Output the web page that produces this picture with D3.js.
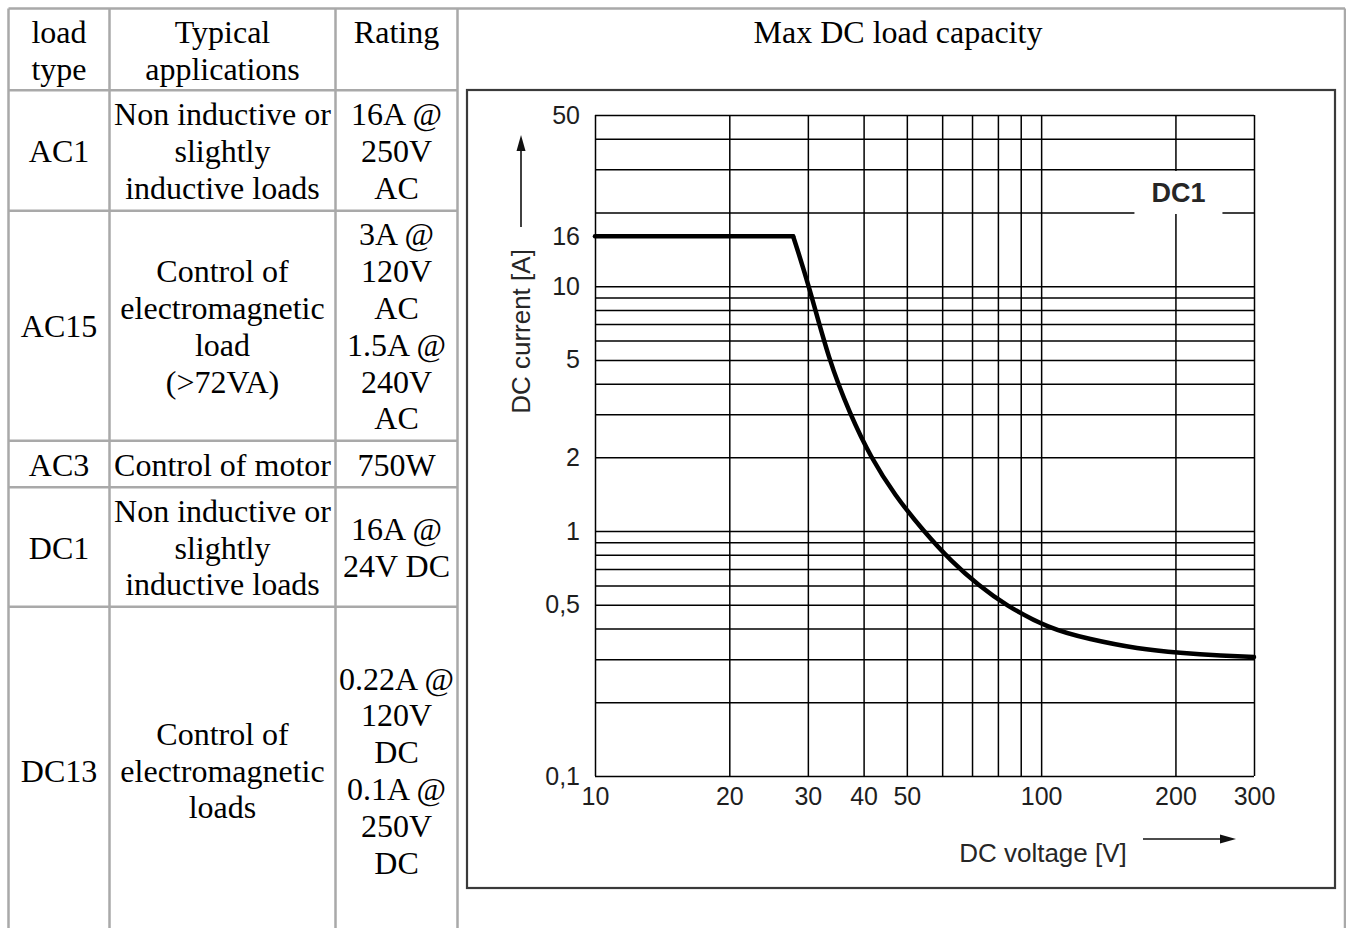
<!DOCTYPE html>
<html>
<head>
<meta charset="utf-8">
<script src="https://cdn.jsdelivr.net/npm/d3@7"></script>
<style>
  body { margin: 0; background: #fff; }
  svg { display: block; }
  .cell { font-family: "Liberation Serif", "Times New Roman", serif; font-size: 32px; fill: #000; }
  .chart text { font-family: "Liberation Sans", Arial, sans-serif; fill: #1e1e1e; }
  .chart .ticks text { font-size: 25px; }
  .chart .axis-title { font-size: 26px; fill: #262626; }
  .chart .series-label { font-size: 27px; font-weight: bold; fill: #262626; }
</style>
</head>
<body>
<svg id="page" width="1346" height="928"></svg>
<script>
// table contents
var headers = [["load", "type"], ["Typical", "applications"], ["Rating"]];
var loadTypes = ["AC1", "AC15", "AC3", "DC1", "DC13"];
var applications = [
  ["Non inductive or", "slightly", "inductive loads"],
  ["Control of", "electromagnetic", "load", "(>72VA)"],
  ["Control of motor"],
  ["Non inductive or", "slightly", "inductive loads"],
  ["Control of", "electromagnetic", "loads"]
];
var ratings = [
  ["16A @", "250V", "AC"],
  ["3A @", "120V", "AC", "1.5A @", "240V", "AC"],
  ["750W"],
  ["16A @", "24V DC"],
  ["0.22A @", "120V", "DC", "0.1A @", "250V", "DC"]
];
var chartTitle = "Max DC load capacity";

// DC1 limit curve (V, A)
var voltage = [10, 27.8, 30.2, 33.4, 37.3, 41.5, 47, 54.5, 63, 72.5, 83, 104, 128, 165, 205, 255, 300];
var current = [16, 16, 10, 5, 3, 2, 1.4, 1, 0.75, 0.6, 0.5, 0.4, 0.362, 0.33, 0.318, 0.31, 0.306];

var xGrid = [10, 20, 30, 40, 50, 60, 70, 80, 90, 100, 200, 300];
var yGrid = [0.1, 0.2, 0.3, 0.4, 0.5, 0.6, 0.7, 0.8, 0.9, 1, 2, 3, 4, 5, 6, 7, 8, 9, 10, 20, 30, 40, 50];
var xTicks = [10, 20, 30, 40, 50, 100, 200, 300];
var yTicks = [0.1, 0.5, 1, 2, 5, 10, 16, 50];
var seriesName = "DC1";

var svg = d3.select('#page');

// ---- table ----
var colEdges = [8.5, 109.5, 335.5, 457.5, 1345];
var rowEdges = [8.5, 90.3, 210.7, 440.7, 487.3, 606.7, 933.3];
var lineH = 36.8;

var borders = svg.append('g')
  .attr('stroke', '#a9a9a9')
  .attr('stroke-width', 2.5);

borders.selectAll('line.v')
  .data(colEdges)
  .enter()
  .append('line')
  .attr('class', 'v')
  .attr('x1', function(d) { return d; })
  .attr('x2', function(d) { return d; })
  .attr('y1', rowEdges[0])
  .attr('y2', 928);

borders.selectAll('line.h')
  .data(rowEdges.slice(1, -1))
  .enter()
  .append('line')
  .attr('class', 'h')
  .attr('x1', colEdges[0])
  .attr('x2', colEdges[3])
  .attr('y1', function(d) { return d; })
  .attr('y2', function(d) { return d; });

borders.append('line')
  .attr('x1', colEdges[0])
  .attr('x2', colEdges[4])
  .attr('y1', rowEdges[0])
  .attr('y2', rowEdges[0]);

var cells = [];
headers.forEach(function(lines, i) { cells.push({col: i, row: 0, lines: lines, top: true}); });
loadTypes.forEach(function(t, i) {
  cells.push({col: 0, row: i + 1, lines: [t]});
  cells.push({col: 1, row: i + 1, lines: applications[i]});
  cells.push({col: 2, row: i + 1, lines: ratings[i]});
});

svg.append('g')
  .selectAll('text')
  .data(cells)
  .enter()
  .append('text')
  .attr('class', 'cell')
  .attr('text-anchor', 'middle')
  .each(function(d) {
    var cx = (colEdges[d.col] + colEdges[d.col + 1]) / 2;
    var first = d.top
      ? rowEdges[0] + 34.5
      : (rowEdges[d.row] + rowEdges[d.row + 1]) / 2 + 11.6 - (d.lines.length - 1) / 2 * lineH;
    d3.select(this).selectAll('tspan')
      .data(d.lines)
      .enter()
      .append('tspan')
      .attr('x', cx)
      .attr('y', function(l, i) { return first + i * lineH; })
      .text(function(l) { return l; });
  });

svg.append('text')
  .attr('class', 'cell')
  .attr('text-anchor', 'middle')
  .attr('x', 898)
  .attr('y', rowEdges[0] + 34.5)
  .text(chartTitle);

// ---- chart ----
var xScale = d3.scaleLog().domain([10, 300]).range([595, 1254]);
var yScale = d3.scaleLog().domain([0.1, 50]).range([776, 115]);
var plotW = xScale(300) - xScale(10);
var plotH = yScale(0.1) - yScale(50);

var chart = svg.append('g').attr('class', 'chart');

// picture frame
chart.append('rect')
  .attr('x', 467)
  .attr('y', 90)
  .attr('width', 868)
  .attr('height', 798)
  .attr('fill', 'none')
  .attr('stroke', '#3a3a3a')
  .attr('stroke-width', 2.2);

// grid lines
var xGridAxis = d3.axisBottom(xScale).tickValues(xGrid).tickSize(-plotH).tickFormat('');
var yGridAxis = d3.axisLeft(yScale).tickValues(yGrid).tickSize(-plotW).tickFormat('');

chart.append('g')
  .attr('transform', 'translate(0,' + yScale(0.1) + ')')
  .call(xGridAxis)
  .call(function(g) { g.select('.domain').remove(); })
  .selectAll('line')
  .attr('stroke', '#000')
  .attr('stroke-width', 1.5);

chart.append('g')
  .attr('transform', 'translate(' + xScale(10) + ',0)')
  .call(yGridAxis)
  .call(function(g) { g.select('.domain').remove(); })
  .selectAll('line')
  .attr('stroke', '#000')
  .attr('stroke-width', 1.5);

// tick labels
var fmt = function(d) { return String(d).replace('.', ','); };

chart.append('g')
  .attr('class', 'ticks')
  .attr('transform', 'translate(' + xScale(10) + ',0)')
  .call(d3.axisLeft(yScale).tickValues(yTicks).tickSize(0).tickPadding(15).tickFormat(fmt))
  .attr('font-size', null)
  .attr('font-family', null)
  .call(function(g) { g.select('.domain').remove(); });

chart.append('g')
  .attr('class', 'ticks')
  .attr('transform', 'translate(0,' + yScale(0.1) + ')')
  .call(d3.axisBottom(xScale).tickValues(xTicks).tickSize(0).tickPadding(11).tickFormat(fmt))
  .attr('font-size', null)
  .attr('font-family', null)
  .call(function(g) { g.select('.domain').remove(); });

// axis titles with arrows
chart.append('text')
  .attr('class', 'axis-title')
  .attr('text-anchor', 'middle')
  .attr('transform', 'translate(530,331.5) rotate(-90)')
  .text('DC current [A]');

chart.append('text')
  .attr('class', 'axis-title')
  .attr('text-anchor', 'middle')
  .attr('x', 1043)
  .attr('y', 862)
  .text('DC voltage [V]');

chart.append('line')
  .attr('x1', 521).attr('x2', 521)
  .attr('y1', 227).attr('y2', 148)
  .attr('stroke', '#111').attr('stroke-width', 1.6);
chart.append('path')
  .attr('d', 'M521,135 L516.5,151 L525.5,151 Z')
  .attr('fill', '#111');

chart.append('line')
  .attr('x1', 1143).attr('x2', 1224)
  .attr('y1', 839).attr('y2', 839)
  .attr('stroke', '#111').attr('stroke-width', 1.6);
chart.append('path')
  .attr('d', 'M1236,839 L1220,834.5 L1220,843.5 Z')
  .attr('fill', '#111');

// series label sitting in a white box over the grid
chart.append('rect')
  .attr('x', xScale(200) - 41)
  .attr('y', 171)
  .attr('width', 88)
  .attr('height', 43)
  .attr('fill', '#fff');

chart.append('text')
  .attr('class', 'series-label')
  .attr('text-anchor', 'middle')
  .attr('x', xScale(200) + 3)
  .attr('y', 201.5)
  .text(seriesName);

// DC1 limit curve: flat part, then the falling part
var points = voltage.map(function(v, i) { return [v, current[i]]; });
var line = d3.line()
  .x(function(d) { return xScale(d[0]); })
  .y(function(d) { return yScale(d[1]); });

chart.append('path')
  .datum(points.slice(0, 2))
  .attr('d', line.curve(d3.curveLinear))
  .attr('fill', 'none')
  .attr('stroke', '#000')
  .attr('stroke-width', 4.5)
  .attr('stroke-linecap', 'round');

chart.append('path')
  .datum(points.slice(1))
  .attr('d', line.curve(d3.curveBasis))
  .attr('fill', 'none')
  .attr('stroke', '#000')
  .attr('stroke-width', 4.5)
  .attr('stroke-linecap', 'round')
  .attr('stroke-linejoin', 'round');
</script>
</body>
</html>
